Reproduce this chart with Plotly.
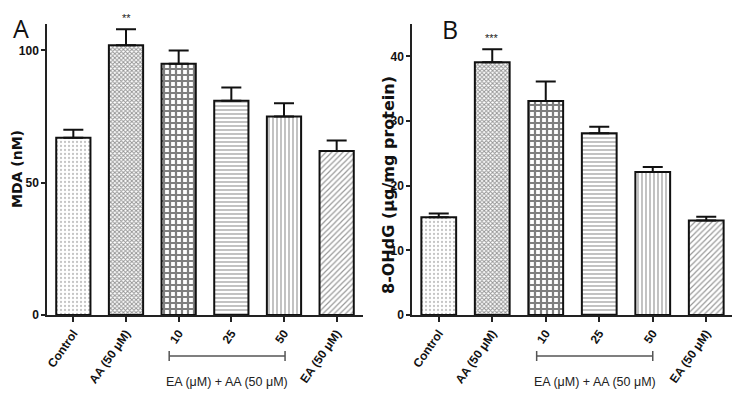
import plotly.graph_objects as go
from plotly.subplots import make_subplots

categories = ["Control", "AA (50 μM)", "10", "25", "50", "EA (50 μM)"]
mda_values = [67, 102, 95, 81, 75, 62]
mda_errors = [3, 6, 5, 5, 5, 4]
ohdg_values = [15.1, 39.1, 33.1, 28.1, 22.1, 14.6]
ohdg_errors = [0.6, 2.0, 3.0, 1.0, 0.8, 0.6]
mda_sig = ["", "**", "", "#", "###", ""]
ohdg_sig = ["", "***", "", "##", "###", ""]
bracket_label = "EA (μM) + AA (50 μM)"
mda_title = "MDA (nM)"
ohdg_title = "8-OHdG (μg/mg protein)"
mda_ticks = [0, 50, 100]
ohdg_ticks = [0, 10, 20, 30, 40]

shapes_ = [".", "x", "+", "-", "|", "/"]
fg = ["#8a8a8a", "#2a2a2a", "#000000", "#333333", "#333333", "#333333"]
sizes = [4, 3, 6, 4, 4, 4]
solid = [0.25, 0.55, 0.6, 0.3, 0.3, 0.3]

NARROW = "Liberation Sans Narrow, Arial Narrow, Liberation Sans, Arial"
WIDE = "DejaVu Sans, Liberation Sans, Arial"

# page offset (body margin) compensation
OFF = 8
W, H = 740 - OFF, 416 - OFF


def px(X):
    return (X - OFF) / W


def py(Y):
    return 1 - (Y - OFF) / H


fig = make_subplots(rows=1, cols=2)

for col, vals, errs in [(1, mda_values, mda_errors), (2, ohdg_values, ohdg_errors)]:
    fig.add_trace(go.Bar(
        x=categories, y=vals, width=0.65,
        marker=dict(color="white", line=dict(color="#111111", width=2),
                    pattern=dict(shape=shapes_, fgcolor=fg, bgcolor="white",
                                 size=sizes, solidity=solid)),
        error_y=dict(type="data", array=errs, arrayminus=[0]*len(errs), symmetric=False,
                     color="#111111", thickness=2, width=10),
        showlegend=False,
    ), row=1, col=col)

axis_common = dict(showline=True, linecolor="#222222", linewidth=1.5, showgrid=False,
                   zeroline=False, ticks="outside", tickcolor="#222222", tickwidth=1.5,
                   automargin=False)

fig.update_xaxes(**axis_common, ticklen=5, tickangle=-55,
                 tickfont=dict(family=NARROW, size=12, color="#111111", weight="bold"),
                 range=[-0.5, 5.5])
fig.update_yaxes(**axis_common, ticklen=4,
                 tickfont=dict(family=NARROW, size=12, color="#111111", weight="bold"))

fig.update_layout(
    xaxis=dict(domain=[px(47), px(363)]),
    xaxis2=dict(domain=[px(412), px(733)]),
    yaxis=dict(domain=[py(315), py(24)], range=[0, 110], tickvals=mda_ticks),
    yaxis2=dict(domain=[py(315), py(24)], range=[0, 45], tickvals=ohdg_ticks),
    width=W, height=H, margin=dict(l=0, r=0, t=0, b=0, autoexpand=False),
    plot_bgcolor="white", paper_bgcolor="white", bargap=0.35,
)

annotations = []
for xr, yr, vals, errs, sig in [("x", "y", mda_values, mda_errors, mda_sig),
                                ("x2", "y2", ohdg_values, ohdg_errors, ohdg_sig)]:
    for i, s in enumerate(sig):
        if s:
            annotations.append(dict(x=categories[i], y=vals[i] + errs[i], xref=xr, yref=yr,
                                    text=s, showarrow=False, yanchor="bottom", yshift=3,
                                    font=dict(family=NARROW, size=11, color="#222222")))

shapes = []
i0 = categories.index("10")
i1 = categories.index("50")
for xr, lo, hi in [("x", -0.18, 0.02), ("x2", -0.17, 0.0)]:
    shapes.append(dict(type="line", xref=xr, yref="paper", x0=i0 + lo, x1=i1 + hi,
                       y0=py(356), y1=py(356), line=dict(color="#555555", width=1.5)))
    for xv in (i0 + lo, i1 + hi):
        shapes.append(dict(type="line", xref=xr, yref="paper", x0=xv, x1=xv,
                           y0=py(361), y1=py(351), line=dict(color="#555555", width=1.5)))
    annotations.append(dict(x=(i0 + i1) / 2 + (lo + hi) / 2, y=py(382), xref=xr, yref="paper",
                            text=bracket_label, showarrow=False, xanchor="center", yanchor="middle",
                            font=dict(family=NARROW, size=12.5, color="#222222")))

annotations.append(dict(x=px(17), y=py(169), xref="paper", yref="paper", text=mda_title,
                        textangle=-90, showarrow=False, xanchor="center", yanchor="middle",
                        font=dict(family=WIDE, size=14, color="#111111", weight="bold")))
annotations.append(dict(x=px(388), y=py(185), xref="paper", yref="paper", text=ohdg_title,
                        textangle=-90, showarrow=False, xanchor="center", yanchor="middle",
                        font=dict(family=WIDE, size=16, color="#111111", weight="bold")))
annotations.append(dict(x=px(21), y=py(28), xref="paper", yref="paper", text="A",
                        showarrow=False, xanchor="center", yanchor="middle",
                        font=dict(family="Open Sans, Liberation Sans", size=25, color="#111111")))
annotations.append(dict(x=px(450), y=py(29), xref="paper", yref="paper", text="B",
                        showarrow=False, xanchor="center", yanchor="middle",
                        font=dict(family="Open Sans, Liberation Sans", size=25, color="#111111")))

fig.update_layout(annotations=annotations, shapes=shapes)
fig.write_html("out.html")
